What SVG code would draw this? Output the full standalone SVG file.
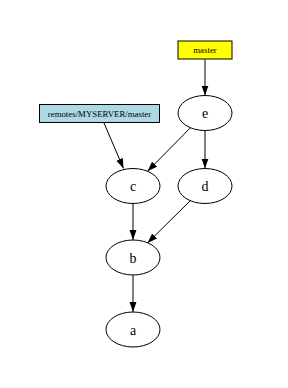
<svg xmlns="http://www.w3.org/2000/svg" width="288" height="388" viewBox="0 0 288 388">
<defs>
<style>
.node ellipse{fill:#fff;stroke:#000;stroke-width:1}
.lbl{font-family:"Liberation Serif","Times New Roman",serif;font-size:14px;text-anchor:middle;fill:#000}
.blbl{font-family:"Liberation Serif","Times New Roman",serif;font-size:8.8px;text-anchor:middle;fill:#000}
.edges line{stroke:#000;stroke-width:1;marker-end:url(#arr)}
</style>
<marker id="arr" markerUnits="userSpaceOnUse" markerWidth="11" markerHeight="8" refX="10" refY="3.5" orient="auto">
<path d="M0,0 L10,3.5 L0,7 Z" fill="#000"/>
</marker>
</defs>
<rect width="288" height="388" fill="#fff"/>
<g class="edges">
<line x1="205" y1="59.5" x2="205" y2="95.5"/>
<line x1="104" y1="123" x2="123.5" y2="168.5"/>
<line x1="190.5" y1="127.7" x2="147.5" y2="171.3"/>
<line x1="205" y1="130.5" x2="205" y2="168.5"/>
<line x1="133" y1="203.5" x2="133" y2="240"/>
<line x1="190.5" y1="200.5" x2="147.5" y2="243"/>
<line x1="133" y1="275" x2="133" y2="312"/>
</g>
<g id="master" class="node">
<rect x="178" y="41" width="54" height="18" fill="#ffff00" stroke="#000"/>
<text class="blbl" x="205" y="53">master</text>
</g>
<g id="remote" class="node">
<rect x="39.5" y="104.5" width="120" height="18" fill="#add8e6" stroke="#000"/>
<text class="blbl" x="99.5" y="116.5">remotes/MYSERVER/master</text>
</g>
<g id="e" class="node">
<ellipse cx="205" cy="113" rx="27" ry="17.5"/>
<text class="lbl" x="205" y="118">e</text>
</g>
<g id="c" class="node">
<ellipse cx="133" cy="186" rx="27" ry="17.5"/>
<text class="lbl" x="133" y="191">c</text>
</g>
<g id="d" class="node">
<ellipse cx="205" cy="186" rx="27" ry="17.5"/>
<text class="lbl" x="205" y="191">d</text>
</g>
<g id="b" class="node">
<ellipse cx="133" cy="257.5" rx="27" ry="17.5"/>
<text class="lbl" x="133" y="262.5">b</text>
</g>
<g id="a" class="node">
<ellipse cx="133" cy="329.5" rx="27" ry="17.5"/>
<text class="lbl" x="133" y="334.5">a</text>
</g>
</svg>
